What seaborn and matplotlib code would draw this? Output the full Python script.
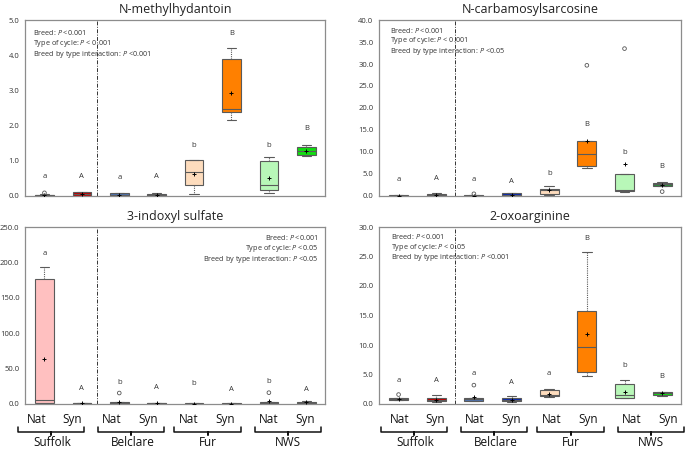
import numpy as np
import pandas as pd
import matplotlib
matplotlib.use("Agg")
import matplotlib.pyplot as plt
import seaborn as sns

# groups
groups = ["Suffolk Nat", "Suffolk Syn", "Belclare Nat", "Belclare Syn",
          "Fur Nat", "Fur Syn", "NWS Nat", "NWS Syn"]
breeds = ["Suffolk", "Belclare", "Fur", "NWS"]
cycle_labels = ["Nat", "Syn"] * 4
colors = ["#ffc0c0", "#c00000", "#4f74b0", "#0a2ab0",
          "#fddcbd", "#ff8000", "#b8f7b8", "#10dd10"]

# N-methylhydantoin
nmh_lo = [0.00, 0.00, 0.00, 0.00, 0.07, 2.15, 0.09, 1.13]
nmh_q1 = [0.00, 0.00, 0.00, 0.00, 0.31, 2.40, 0.18, 1.17]
nmh_med = [0.02, 0.05, 0.03, 0.02, 0.68, 2.46, 0.32, 1.28]
nmh_q3 = [0.04, 0.12, 0.08, 0.05, 1.02, 3.88, 1.00, 1.38]
nmh_hi = [0.05, 0.12, 0.08, 0.08, 1.02, 4.20, 1.12, 1.46]
nmh_mean = [0.03, 0.05, 0.04, 0.03, 0.62, 2.92, 0.50, 1.27]
nmh_out = [(0, 0.09)]
nmh_letters = ["a", "A", "a", "A", "b", "B", "b", "B"]
nmh_letter_y = [0.55, 0.55, 0.52, 0.55, 1.43, 4.62, 1.43, 1.91]

# N-carbamosylsarcosine
ncs_lo = [0.0, 0.1, 0.0, 0.0, 0.2, 6.3, 1.0, 2.2]
ncs_q1 = [0.0, 0.1, 0.0, 0.0, 0.4, 6.9, 1.2, 2.3]
ncs_med = [0.1, 0.3, 0.1, 0.3, 1.4, 9.6, 1.3, 2.7]
ncs_q3 = [0.2, 0.4, 0.2, 0.6, 1.7, 12.6, 4.9, 3.0]
ncs_hi = [0.3, 0.6, 0.2, 0.6, 2.2, 12.6, 4.9, 3.2]
ncs_mean = [0.1, 0.3, 0.1, 0.3, 1.3, 12.4, 7.2, 2.6]
ncs_out = [(2, 0.5), (5, 29.7), (6, 33.5), (7, 1.0)]
ncs_letters = ["a", "A", "a", "A", "b", "B", "b", "B"]
ncs_letter_y = [3.7, 3.9, 3.7, 3.3, 5.2, 16.3, 10.0, 6.8]

# 3-indoxyl sulfate
ixs_lo = [0.0, 0.2, 0.0, 0.1, 0.0, 0.0, 0.0, 0.5]
ixs_q1 = [2.0, 0.5, 0.5, 0.5, 0.2, 0.2, 0.5, 1.0]
ixs_med = [6.0, 1.0, 2.0, 1.0, 0.5, 0.5, 1.5, 2.0]
ixs_q3 = [177.0, 1.5, 3.5, 1.5, 0.8, 0.8, 3.0, 3.5]
ixs_hi = [193.0, 2.0, 3.5, 2.0, 1.0, 1.0, 3.0, 4.0]
ixs_mean = [64.0, 1.0, 2.5, 1.0, 0.5, 0.5, 4.0, 2.5]
ixs_out = [(2, 15.5), (6, 16.0)]
ixs_letters = ["a", "A", "b", "A", "b", "A", "b", "A"]
ixs_letter_y = [213, 22, 30, 23, 29, 21, 32, 21]

# 2-oxoarginine
oxo_lo = [0.60, 0.40, 0.50, 0.30, 1.2, 4.8, 1.0, 1.40]
oxo_q1 = [0.65, 0.50, 0.55, 0.45, 1.3, 5.4, 1.1, 1.50]
oxo_med = [0.90, 0.65, 0.85, 0.75, 1.5, 9.6, 1.5, 1.85]
oxo_q3 = [1.05, 0.95, 1.10, 1.05, 2.4, 15.8, 3.4, 2.10]
oxo_hi = [1.10, 1.50, 1.10, 1.40, 2.6, 25.8, 4.0, 2.10]
oxo_mean = [0.90, 0.60, 1.25, 0.70, 1.7, 11.8, 2.1, 1.80]
oxo_out = [(0, 1.6), (2, 3.2)]
oxo_letters = ["a", "A", "a", "A", "a", "B", "b", "B"]
oxo_letter_y = [4.0, 3.9, 5.2, 3.6, 5.2, 28.0, 6.5, 4.6]

sns.set_style("white")
plt.rcParams['font.family'] = ['Open Sans', 'DejaVu Sans']
plt.rcParams['mathtext.fontset'] = 'custom'
plt.rcParams['mathtext.rm'] = 'Open Sans'
plt.rcParams['mathtext.it'] = 'Open Sans:italic'

W, H = 685, 449
fig = plt.figure(figsize=(W / 100, H / 100), dpi=100)


def px_axes(left, top, right, bottom):
    return fig.add_axes([left / W, 1 - bottom / H, (right - left) / W, (bottom - top) / H])


def panel(ax, title, lo, q1, med, q3, hi, mean, out, letters, letter_y,
          ymax, step, stats, stats_pos, ha, vline, pal):
    rows = []
    for g, vals in zip(groups, zip(lo, q1, med, q3, hi)):
        for v in vals:
            rows.append({"group": g, "value": v})
    df = pd.DataFrame(rows)
    sns.boxplot(data=df, x="group", y="value", hue="group", order=groups,
                hue_order=groups, palette=pal, legend=False, ax=ax,
                whis=(0, 100), width=0.5, showfliers=False, saturation=1,
                linecolor="#5a5a5a", linewidth=0.8,
                whiskerprops=dict(linestyle=(0, (1, 1))))
    pos = np.arange(len(groups))
    ax.scatter(pos, mean, marker="+", s=10, color="black", linewidths=0.7, zorder=5)
    ax.scatter([pos[i] for i, v in out], [v for i, v in out], marker="o", s=7,
               facecolors="none", edgecolors="#555555", linewidths=0.6, zorder=5)
    for i, (t, y) in enumerate(zip(letters, letter_y)):
        ax.text(pos[i], y, t, ha="center", va="center", fontsize=5.5, color="#333333")
    ax.axvline(vline, color="#333333", lw=0.7, ls=(0, (4, 1.5, 1, 1.5)))
    ax.set_xlim(-0.52, 7.5)
    ax.set_ylim(0, ymax)
    ax.set_yticks(np.arange(0, ymax + step / 2, step))
    ax.set_yticklabels([f"{v:.1f}" for v in np.arange(0, ymax + step / 2, step)])
    ax.set_xticks(pos)
    ax.set_xticklabels([])
    ax.set_xlabel("")
    ax.set_ylabel("")
    ax.tick_params(axis="both", direction="out", length=2.5, width=0.6,
                   color="#666666", labelsize=5.5, pad=1.5, labelcolor="#333333")
    for s in ax.spines.values():
        s.set_color("#8c8c8c")
        s.set_linewidth(0.9)
    ax.set_title(title, fontsize=9, pad=5, color="#222222")
    x0, y0 = stats_pos
    for k, line in enumerate(stats):
        ax.text(x0, y0 - k * 0.062, line, transform=ax.transAxes, ha=ha,
                va="center", fontsize=5.2, color="#333333")


ax1 = px_axes(25, 20, 325, 196)
ax2 = px_axes(379, 20, 681, 196)
ax3 = px_axes(25, 227, 325, 404)
ax4 = px_axes(379, 227, 681, 404)

panel(ax1, "N-methylhydantoin", nmh_lo, nmh_q1, nmh_med, nmh_q3, nmh_hi, nmh_mean,
      nmh_out, nmh_letters, nmh_letter_y, 5.0, 1.0,
      ["Breed: $P$ <0.001", "Type of cycle: $P$ < 0.001",
       "Breed by type interaction: $P$ <0.001"], (0.028, 0.93), "left", 1.4, colors)
pal2 = colors[:7] + ["#2e8b3e"]
panel(ax2, "N-carbamosylsarcosine", ncs_lo, ncs_q1, ncs_med, ncs_q3, ncs_hi, ncs_mean,
      ncs_out, ncs_letters, ncs_letter_y, 40.0, 5.0,
      ["Breed: $P$ <0.001", "Type of cycle: $P$ < 0.001",
       "Breed by type interaction: $P$ <0.05"], (0.036, 0.943), "left", 1.5, pal2)
panel(ax3, "3-indoxyl sulfate", ixs_lo, ixs_q1, ixs_med, ixs_q3, ixs_hi, ixs_mean,
      ixs_out, ixs_letters, ixs_letter_y, 250.0, 50.0,
      ["Breed: $P$ <0.001", "Type of cycle: $P$ <0.05",
       "Breed by type interaction: $P$ <0.05"], (0.977, 0.938), "right", 1.4, colors)
panel(ax4, "2-oxoarginine", oxo_lo, oxo_q1, oxo_med, oxo_q3, oxo_hi, oxo_mean,
      oxo_out, oxo_letters, oxo_letter_y, 30.0, 5.0,
      ["Breed: $P$ <0.001", "Type of cycle: $P$ < 0.05",
       "Breed by type interaction: $P$ <0.001"], (0.039, 0.949), "left", 1.5, colors)

# Nat/Syn labels, braces and breed names under bottom panels
label_px = [37, 72, 112, 148, 189, 225, 269, 305]
brace_px = [(18, 84), (98, 164), (174, 241), (255, 321)]
breed_px = [52, 133, 208, 288]
for shift in (0, 363):
    for x, t in zip(label_px, cycle_labels):
        fig.text((x + shift) / W, 1 - 419.5 / H, t, ha="center", va="center",
                 fontsize=8.5, color="#111111")
    for (a, b), c, name in zip(brace_px, breed_px, breeds):
        a, b = a + shift, b + shift
        m = (a + b) / 2
        xs = np.array([a, a, m, m, m, b, b]) / W
        ys = 1 - np.array([426.5, 431.5, 431.5, 435, 431.5, 431.5, 426.5]) / H
        fig.add_artist(plt.Line2D(xs, ys, color="#111111", lw=1.1,
                                  solid_joinstyle="round", transform=fig.transFigure))
        fig.text((c + shift) / W, 1 - 443 / H, name, ha="center", va="center",
                 fontsize=8.5, color="#111111")

fig.savefig("out.png", dpi=100)
